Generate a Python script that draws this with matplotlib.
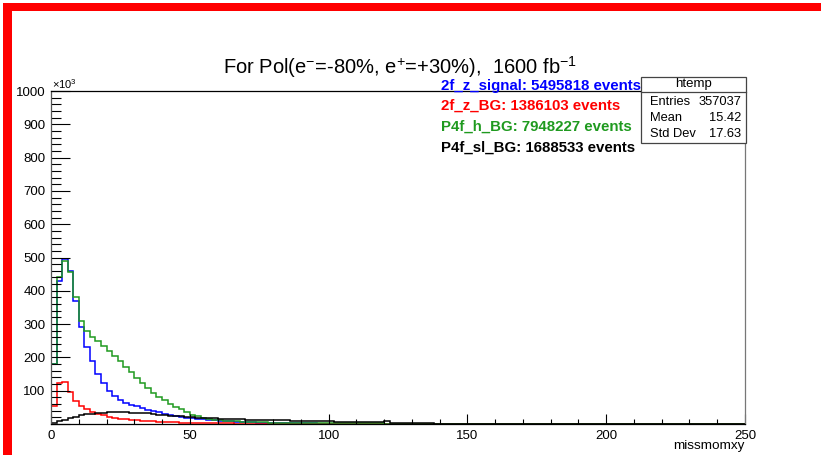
import matplotlib.pyplot as plt
import numpy as np
from matplotlib.patches import Rectangle
from matplotlib.lines import Line2D

plt.rcParams['font.family'] = ['Liberation Sans', 'DejaVu Sans']
plt.rcParams['mathtext.fontset'] = 'custom'
plt.rcParams['mathtext.rm'] = 'Liberation Sans'
plt.rcParams['mathtext.it'] = 'Liberation Sans'
plt.rcParams['mathtext.bf'] = 'Liberation Sans:bold'

# histogram binning (missmomxy), counts in units of 10^3
edges = np.arange(0, 252, 2)
nbins = len(edges) - 1

blue = [180, 430, 495, 460, 370, 290, 230, 190, 150, 122,
        100, 84, 73, 64, 58, 53, 48, 43, 39, 35,
        30, 27, 24, 22, 19, 17, 15, 14, 12, 11,
        10, 9, 8, 7, 6, 5, 5, 4, 4, 4,
        3, 3, 3, 2, 2, 2, 2, 2, 1, 1]
red = [55, 122, 127, 95, 70, 55, 45, 37, 31, 26,
       22, 19, 16, 14, 12, 11, 10, 9, 8, 7,
       6, 5, 5, 4, 4, 3, 3, 3, 2, 2,
       2, 2, 2, 1, 1, 1, 1, 1, 1, 1]
green = [180, 440, 490, 455, 380, 310, 280, 262, 248, 234,
         220, 205, 190, 172, 155, 138, 122, 108, 94, 82,
         71, 60, 52, 44, 35, 28, 23, 19, 16, 13,
         11, 10, 9, 8, 7, 6, 6, 5, 5, 4,
         4, 4, 3, 3, 3, 3, 2, 2, 2, 2,
         2, 2, 2, 2, 2, 2, 2, 2, 2, 2,
         1, 1, 1, 1, 1, 1, 1, 1, 1, 1,
         1, 1, 1, 1, 1, 1, 1, 1, 1, 1, 1]
black = [3, 8, 13, 18, 22, 26, 29, 31, 33, 34,
         35, 35, 35, 35, 34, 34, 33, 32, 30, 28,
         27, 25, 24, 23, 22, 20, 19, 18, 17, 17,
         16, 15, 15, 14, 14, 13, 13, 12, 12, 12,
         11, 11, 11, 10, 10, 10, 9, 9, 9, 8,
         8, 7, 7, 7, 7, 6, 6, 6, 6, 5,
         8, 4, 4, 3, 3, 3, 2, 2, 2, 1,
         1, 1, 1, 1, 1, 1, 1, 1, 1, 1, 1]

def pad(v):
    return np.array(v + [0] * (nbins - len(v)), dtype=float)

series = [("2f_z_signal: 5495818 events", blue, "#0000ff"),
          ("2f_z_BG: 1386103 events", red, "#ff0000"),
          ("P4f_h_BG: 7948227 events", green, "#1f9a1f"),
          ("P4f_sl_BG: 1688533 events", black, "#000000")]

W, H = 821, 455
fig = plt.figure(figsize=(W / 100, H / 100), dpi=100)

def fx(px):
    return px / W

def fy(py):
    return 1 - py / H

ax = fig.add_axes([fx(51), fy(424), fx(745) - fx(51), fy(91) - fy(424)])

for label, vals, col in series:
    ax.stairs(pad(vals), edges, color=col, lw=1.1, baseline=None)

ax.set_xlim(0, 250)
ax.set_ylim(0, 1000)
ax.set_xticks(np.arange(0, 251, 50))
ax.set_xticks(np.arange(0, 251, 10), minor=True)
ax.set_yticks(np.arange(0, 1001, 100))
ax.set_yticks(np.arange(0, 1001, 20), minor=True)
ax.set_yticklabels([""] + [str(v) for v in range(100, 1001, 100)])
ax.tick_params(axis='both', which='both', direction='in', labelsize=9.5, colors='black')
ax.tick_params(axis='y', which='major', direction='in', length=14, width=0.8, pad=4)
ax.tick_params(axis='y', which='minor', direction='in', length=7, width=0.8)
ax.tick_params(axis='x', which='major', direction='in', length=7, width=0.8, pad=4)
ax.tick_params(axis='x', which='minor', direction='in', length=3.5, width=0.8)
for s in ax.spines.values():
    s.set_linewidth(0.9)
ax.spines['right'].set_color('#777777')
ax.spines['left'].set_color('#555555')

fig.text(fx(52), fy(84), r'$\times$10$^{3}$', fontsize=8, va='center', ha='left')
fig.text(fx(745), fy(446), 'missmomxy', fontsize=9.7, ha='right', va='center')

fig.text(fx(400), fy(67), r'For Pol(e$^{-}$=-80%, e$^{+}$=+30%),  1600 fb$^{-1}$',
         fontsize=14.5, ha='center', va='center')

ys = [86, 106, 127, 148]
for (label, vals, col), y in zip(series, ys):
    fig.text(fx(441), fy(y), label, color=col, fontsize=10.8, fontweight='bold',
             ha='left', va='center')

# stats box
fig.add_artist(Rectangle((fx(641), fy(143)), fx(746) - fx(641), fy(77) - fy(143),
                         transform=fig.transFigure, facecolor='white',
                         edgecolor='#444444', lw=0.9, zorder=5))
fig.add_artist(Line2D([fx(641), fx(746)], [fy(92), fy(92)], transform=fig.transFigure,
                      color='#444444', lw=0.9, zorder=6))
fig.text(fx(693), fy(84), 'htemp', fontsize=9.5, ha='center', va='center', zorder=7)
stats = [("Entries", "357037", 102), ("Mean", "15.42", 118), ("Std Dev", "17.63", 134)]
for name, val, y in stats:
    fig.text(fx(650), fy(y), name, fontsize=9.3, ha='left', va='center', zorder=7)
    fig.text(fx(741), fy(y), val, fontsize=9.3, ha='right', va='center', zorder=7)

# red canvas frame
fig.add_artist(Rectangle((fx(3), 0), fx(12) - fx(3), fy(3), transform=fig.transFigure,
                         facecolor='#ff0000', edgecolor='none'))
fig.add_artist(Rectangle((fx(3), fy(11)), 1 - fx(3), fy(3) - fy(11),
                         transform=fig.transFigure, facecolor='#ff0000', edgecolor='none'))

fig.savefig('out.png', dpi=100)
